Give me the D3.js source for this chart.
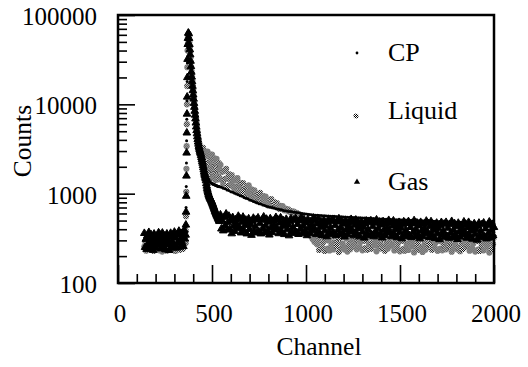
<!DOCTYPE html>
<html><head><meta charset="utf-8">
<script src="https://cdn.jsdelivr.net/npm/d3@7"></script>
<style>
html,body{margin:0;padding:0;background:#fff;}
svg{display:block;}
text{font-family:"Liberation Serif","Times New Roman",serif;fill:#000;}
</style>
</head><body>
<svg id="chart" width="528" height="367"></svg>
<script>
// ---- channel sampling of the spectra ----
const gasBaseChannels = d3.range(140, 361, 4);   // flat pre-peak region (gas)
const baseChannels    = d3.range(140, 361, 5);   // flat pre-peak region (liquid, CP)
const riseChannels    = d3.range(361, 372, 1);   // rising edge
const decayChannels   = d3.range(372, 541, 2);   // fast decay (gas, liquid)
const cpDecayChannels = d3.range(372, 541, 3);   // fast decay (CP)
const tailChannels    = d3.range(545, 2001, 5);  // long tail (gas, liquid)
const cpTailChannels  = d3.range(550, 2001, 10); // long tail (CP)

// ---- Gas (black triangles) ----
const gasBase = [360,251,310,239,339,274,369,245,295,348,
  260,325,233,354,283,248,333,301,266,366,
  280,345,242,319,363,257,292,336,236,313,
  355,271,307,232,334,361,256,289,346,247,
  372,259,320,247,351,284,381,253,305,360,
  286,358,257,390,312,345];
const gasRise = [447,624,940,1580,2860,4800,7800,12100,20000,32000,47000];
const gasDecay = [55000,63000,62000,55000,47000,41000,36000,30500,26500,23000,
  20300,18000,16000,14300,12800,11500,10300,9300,8400,7600,
  6900,6200,5600,5100,4700,4350,4050,3800,3600,3400,
  3250,3120,3000,2900,2800,2680,2550,2420,2300,2200,
  2070,1960,1850,1750,1660,1600,1530,1470,1400,1300,
  1220,1150,1100,1050,1020,985,955,930,910,890,
  870,855,840,820,800,780,760,740,720,700,
  680,660,640,625,610,598,585,572,560,548,
  535,522,510,500,490];
const gasTail = [580,404,499,385,546,442,594,394,475,561,
  398,497,357,542,434,380,511,461,407,560,
  423,521,365,481,547,387,441,507,356,472,
  524,400,453,343,493,532,378,427,510,365,
  537,374,462,356,506,409,550,365,440,519,
  385,482,346,526,420,368,495,447,394,543,
  415,511,358,472,538,380,433,498,350,463,
  518,396,448,339,487,526,374,422,505,361,
  528,368,455,351,498,403,541,359,433,511,
  378,473,340,516,413,361,486,439,387,533,
  406,500,350,461,525,371,423,487,342,453,
  505,386,437,331,475,513,365,411,492,352,
  512,357,441,340,483,391,525,349,420,496,
  366,458,329,499,399,349,470,424,374,516,
  392,483,339,446,508,359,409,471,330,438,
  488,373,422,320,459,496,353,398,476,340,
  498,347,428,330,469,379,510,339,408,481,
  357,447,321,487,390,341,459,414,365,503,
  384,473,331,436,497,351,400,461,323,428,
  478,366,414,314,450,486,346,390,466,334,
  488,340,420,324,460,372,500,332,400,472,
  350,438,314,478,382,334,450,406,358,494,
  376,463,325,428,487,345,392,451,317,420,
  469,359,406,307,441,477,339,382,457,327,
  478,333,412,318,451,365,490,325,392,463,
  343,429,308,468,374,328,441,398,351,484,
  370,455,319,420,478,338,385,443,311,412,
  462,353,400,303,435,469,334,376,450,322,
  471,328,405,313,444,359,483,320,386,455,
  340,420];

// ---- Liquid (grey markers) ----
const liquidBase = [255,290,230,270,310, 240,280,235,300,260, 228,285,250,315,240, 270,232,295,255,225,
  280,305,245,265,230, 290,250,320,240,275, 235,300,260,228,285, 310,245,270,235,295, 260,240,300,330,280];
const liquidRise = [380,560,1050,1900,3400,6000,10000,16000,26000,40000,54000];
const liquidDecay = [48000,58000,61000,57000,50000,44000,38500,33500,29500,26000,
  23000,20500,18300,16400,14700,13200,11900,10700,9700,8800,
  8000,7300,6700,6150,5650,5200,4800,4450,4150,3900,
  3680,3500,3350,3230,
  3250,2810,3010,2510,3060,2610,3260,2610,2160,2940,
  2590,2180,2960,2040,2510,1770,2650,2110,2950,2190,
  1690,2630,2270,1840,2750,1740,2290,1500,2460,1890,
  2740,1990,1520,2420,2080,1690,2490,1610,2080,1420,
  2220,1740,2450,1830,1440,2160,1880,1560,2200,1490,
  1870];
const liquidTail = [2105,1430,1756,1271,1804,1463,1900,1476,1221,1652,
  1466,1265,1614,1208,1400,1096,1426,1208,1490,1213,
  1039,1324,1201,1063,1310,1018,1161,939,1188,1026,
  1240,1033,903,1116,1021,915,1091,880,975,823,
  985,881,1020,889,804,947,882,810,928,783,
  848,739,855,778,872,778,719,804,764,720,
  784,700,732,675,729,688,728,679,651,680,
  664,646,668,633,643,617,634,616,630,609,
  593,609,595,581,570,
  575,530,540,490,500,445,455,400,415,365,
  380,335,350,310,330,290,315,280,
  271,333,234,308,351,248,282,325,228,302,
  348,242,299,231,328,265,356,237,285,336,
  339,259,294,222,319,345,245,276,331,237,
  251,314,225,342,274,239,322,291,257,353,
  276,328,238,303,346,252,287,320,232,298,
  343,246,295,235,323,270,351,241,280,331,
  334,263,290,226,314,340,249,272,326,241,
  255,309,229,337,278,243,317,287,261,348,
  268,330,231,305,348,245,279,322,226,299,
  345,239,296,229,325,262,352,234,282,333,
  336,256,291,220,316,342,242,273,328,234,
  248,311,223,339,271,236,319,288,254,350,
  273,325,235,300,343,249,284,317,229,295,
  340,243,292,232,320,267,348,238,277,328,
  331,260,287,224,311,337,246,269,323,238,
  252,306,227,334,275,240,314,284,258,345,
  266,328,230,303,346,243,277,320,225,297,
  342,237,294,228,323,260,350,232,280,331,
  333,254,289,219,314,340,240,271,326];

// ---- CP (small black dots) ----
const cpBase = [300,320,270,345,285, 310,260,335,295,280, 350,270,305,325,260, 290,340,275,315,300,
  265,330,285,355,270, 300,320,280,345,260, 310,290,335,275,325, 300,350,285,315,340, 295,330,360,320,380];
const cpRise = [420,700,1200,2200,3900,6800,11000,18000,29000,43000,57000];
const cpDecay = [52000,62000,56000,46000,37000,30000,24500,20000,17000,14500,
  12300,10500,9000,7800,6700,5900,5200,4600,4150,3800,
  3500,3250,3050,2850,2650,2500,2350,2200,2080,1970,
  1870,1780,1700,1630,1570,1510,1470,1430,1390,1355,
  1335,1320,1305,1295,1285,1275,1265,1255,1248,1240,
  1232,1225,1218,1210,1205,1200,1195];
const cpTail = [1180,1150,1135,1100,1085,1050,1040,1010,990,975,
  950,935,905,890,875,850,840,815,805,790,
  770,765,745,735,725,715,705,700,690,680,
  675,665,660,650,645,640,632,630,622,618,
  615,610,606,600,597,592,589,584,581,578,
  575,573,571,568,566,565,563,561,560,558,
  557,555,553,552,550,549,548,546,545,543,
  542,540,539,537,536,534,533,531,530,529,
  527,526,524,523,522,520,519,518,517,516,
  514,513,512,511,510,509,508,507,506,505,
  504,503,502,501,500,499,498,497,496,495,
  494,493,492,491,490,489,488,487,486,485,
  485,484,483,482,481,480,479,478,477,476,
  475,474,473,472,471,470,469,468,467,466,
  465,464,463,462,461,460];

// ---- axes ----
const channelMajorTicks = [0,500,1000,1500,2000];
const channelMinorTicks = [100,200,300,400,600,700,800,900,1100,1200,1300,1400,1600,1700,1800,1900];
const countMajorTicks = [100,1000,10000,100000];
const countTickLabels = ["100","1000","10000","100000"];
const countMinorTicks = [200,300,400,500,600,700,800,900,2000,3000,4000,5000,6000,7000,8000,9000,
  20000,30000,40000,50000,60000,70000,80000,90000];
const legendLabels = ["CP","Liquid","Gas"];

function build(chs, vals, name){
  if (chs.length !== vals.length) throw new Error(name+" length "+vals.length+" vs "+chs.length);
  return chs.map((c,i)=>({ch:c, v:vals[i]}));
}
const gasData = [].concat(build(gasBaseChannels,gasBase,"gasBase"), build(riseChannels,gasRise,"gasRise"),
  build(decayChannels,gasDecay,"gasDecay"), build(tailChannels,gasTail,"gasTail"));
const liquidData = [].concat(build(baseChannels,liquidBase,"liqBase"), build(riseChannels,liquidRise,"liqRise"),
  build(decayChannels,liquidDecay,"liqDecay"), build(tailChannels,liquidTail,"liqTail"));
const cpData = [].concat(build(baseChannels,cpBase,"cpBase"), build(riseChannels,cpRise,"cpRise"),
  build(cpDecayChannels,cpDecay,"cpDecay"), build(cpTailChannels,cpTail,"cpTail"));

const L=118, R=494, T=15, B=283;
const x = d3.scaleLinear().domain([0,2000]).range([L,R]);
const y = d3.scaleLog().domain([100,100000]).range([B,T]);

const svg = d3.select("#chart");
const defs = svg.append("defs");
const pat = defs.append("pattern").attr("id","dither").attr("patternUnits","userSpaceOnUse")
  .attr("width",2).attr("height",2);
pat.append("rect").attr("width",2).attr("height",2).attr("fill","#fff");
pat.append("rect").attr("x",0).attr("y",0).attr("width",1).attr("height",1).attr("fill","#000");
pat.append("rect").attr("x",1).attr("y",1).attr("width",1).attr("height",1).attr("fill","#000");

const triangle = d3.symbol().type(d3.symbolTriangle).size(25);
const liqSym = d3.symbol().type(d3.symbolCircle).size(30);
const legendTriangle = d3.symbol().type(d3.symbolTriangle).size(17);
const legendLiq = d3.symbol().type(d3.symbolCircle).size(20);

// Liquid first (underneath)
svg.append("g").selectAll("path").data(liquidData).join("path")
  .attr("d", liqSym).attr("transform", d=>`translate(${x(d.ch)},${y(d.v)})`)
  .attr("fill","url(#dither)");
// Gas triangles
svg.append("g").selectAll("path").data(gasData).join("path")
  .attr("d", triangle).attr("transform", d=>`translate(${x(d.ch)},${y(d.v)})`)
  .attr("fill","#000").attr("stroke","#000").attr("stroke-width",1);
// CP dots
svg.append("g").selectAll("circle").data(cpData).join("circle")
  .attr("cx", d=>x(d.ch)).attr("cy", d=>y(d.v)).attr("r",1.5).attr("fill","#000");

// ticks (inward)
function styleAxis(g){ g.select(".domain").remove(); g.selectAll(".tick line").attr("stroke","#000").attr("stroke-width",1.6); }
svg.append("g").attr("transform",`translate(0,${B})`)
  .call(d3.axisBottom(x).tickValues(channelMinorTicks).tickSize(-9).tickFormat("")).call(styleAxis);
svg.append("g").attr("transform",`translate(0,${B})`)
  .call(d3.axisBottom(x).tickValues(channelMajorTicks).tickSize(-18).tickFormat("")).call(styleAxis);
svg.append("g").attr("transform",`translate(${L},0)`)
  .call(d3.axisLeft(y).tickValues(countMinorTicks).tickSize(-9).tickFormat("")).call(styleAxis);
svg.append("g").attr("transform",`translate(${L},0)`)
  .call(d3.axisLeft(y).tickValues(countMajorTicks).tickSize(-17).tickFormat("")).call(styleAxis);

// frame
svg.append("rect").attr("x",L).attr("y",T).attr("width",R-L).attr("height",B-T)
  .attr("fill","none").attr("stroke","#000").attr("stroke-width",2.5);

// tick labels
svg.append("g").selectAll("text").data(channelMajorTicks).join("text")
  .attr("x", d=>x(d)+2).attr("y", 322).attr("text-anchor","middle").attr("font-size",25)
  .text(d=>String(d));
svg.append("g").selectAll("text").data(countMajorTicks).join("text")
  .attr("x", 97).attr("y", d=>y(d)+10).attr("text-anchor","end").attr("font-size",25)
  .text((d,i)=>countTickLabels[i]);

// axis titles
svg.append("text").attr("x",319).attr("y",355).attr("text-anchor","middle").attr("font-size",25.5).text("Channel");
svg.append("text").attr("transform","translate(31,141) rotate(-90)").attr("text-anchor","middle")
  .attr("font-size",25.5).text("Counts");

// legend
const legendY = [61,119,190];
const lg = svg.append("g");
legendLabels.forEach((lab,i)=>{
  lg.append("text").attr("x",388).attr("y",legendY[i]).attr("font-size",26).text(lab);
});
lg.append("circle").attr("cx",357).attr("cy",53).attr("r",1.4).attr("fill","#000");
lg.append("path").attr("d",legendLiq).attr("transform","translate(356,116)").attr("fill","url(#dither)");
lg.append("path").attr("d",legendTriangle).attr("transform","translate(357,182)").attr("fill","#000");
</script>
</body></html>
